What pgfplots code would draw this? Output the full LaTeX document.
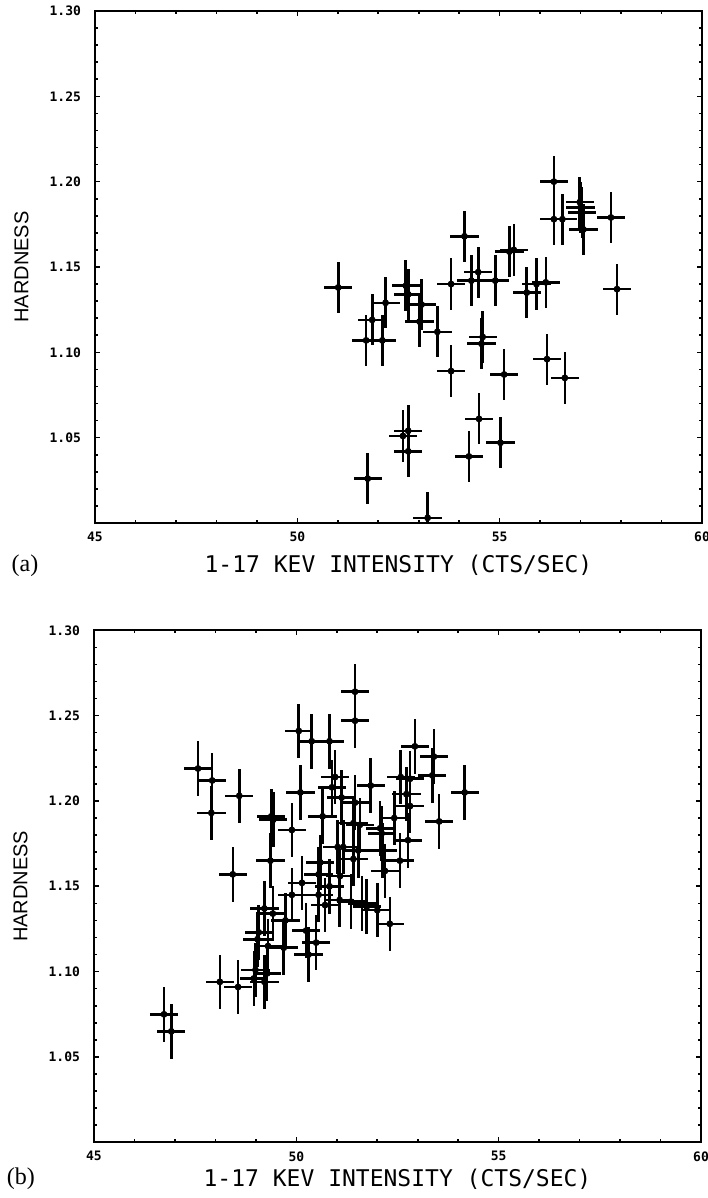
\documentclass[border=0pt]{standalone}
\usepackage{fontspec}
\setmainfont{Liberation Sans}
\newfontfamily\plotfont{DejaVu Sans Mono}
\newfontfamily\seriffont{Liberation Serif}
\usepackage{pgfplots}
\pgfplotsset{compat=1.18}
\usepackage{pgfplotstable}

% panel (a): intensity vs hardness
\pgfplotstableread{
x     y
51.01 1.138
51.85 1.119
51.70 1.107
52.10 1.107
52.18 1.129
52.68 1.139
52.74 1.134
53.07 1.128
53.02 1.118
53.46 1.112
53.80 1.140
54.13 1.168
54.30 1.142
54.47 1.147
54.89 1.142
55.24 1.159
55.35 1.160
55.67 1.135
55.91 1.140
56.14 1.141
56.34 1.200
56.34 1.178
56.55 1.178
56.98 1.188
57.00 1.185
57.03 1.182
57.07 1.172
57.75 1.179
57.90 1.137
54.58 1.109
54.55 1.105
53.80 1.089
55.11 1.087
56.17 1.096
56.61 1.085
54.49 1.061
55.02 1.047
54.24 1.039
52.61 1.051
52.74 1.054
52.74 1.042
51.74 1.026
53.22 1.003
}\dataA

% panel (b)
\pgfplotstableread{
x     y
47.57 1.219
47.92 1.212
47.90 1.193
48.59 1.203
48.43 1.157
46.73 1.075
46.91 1.065
48.11 1.094
48.56 1.091
51.45 1.264
51.45 1.247
50.06 1.241
50.38 1.235
50.82 1.235
50.10 1.205
49.38 1.191
49.43 1.189
49.89 1.183
49.36 1.165
50.65 1.191
50.96 1.214
50.88 1.208
51.12 1.202
51.84 1.209
51.45 1.199
51.41 1.187
51.57 1.186
52.07 1.184
52.11 1.181
52.42 1.190
52.93 1.232
53.40 1.226
53.36 1.215
52.58 1.214
52.81 1.213
54.16 1.205
52.72 1.204
52.81 1.197
53.53 1.188
52.76 1.177
51.02 1.173
51.53 1.171
52.13 1.171
51.16 1.173
52.56 1.165
52.19 1.159
50.59 1.164
50.55 1.157
51.08 1.156
51.41 1.166
50.82 1.150
50.55 1.145
50.14 1.152
51.07 1.142
51.35 1.141
50.71 1.139
51.62 1.140
51.74 1.138
52.00 1.136
52.31 1.128
50.24 1.124
50.49 1.117
50.30 1.110
49.89 1.145
49.21 1.137
49.42 1.134
49.73 1.130
49.07 1.123
49.04 1.119
49.69 1.114
49.30 1.115
48.99 1.101
49.28 1.099
48.95 1.096
49.21 1.094
}\dataB

\pgfplotsset{
  hardplot/.style={
    scale only axis, width=303.5pt, height=256pt,
    xmin=45, xmax=60, ymin=1.0, ymax=1.30,
    xtick={45,50,55,60}, xticklabels={45,50,55,60},
    minor x tick num=4,
    ytick={1.00,1.05,1.10,1.15,1.20,1.25,1.30},
    yticklabels={,1.05,1.10,1.15,1.20,1.25,1.30},
    minor y tick num=4,
    axis line style={line width=1pt},
    major tick length=2.5pt, minor tick length=1.5pt,
    every tick/.style={black, line width=0.8pt},
    tick label style={font=\plotfont\bfseries\fontsize{6.5}{7.5}\selectfont},
    yticklabel style={xshift=-3.5pt},
    xticklabel style={yshift=-1pt},
    xlabel={1-17 KEV INTENSITY (CTS/SEC)},
    ylabel={HARDNESS},
    xlabel style={font=\plotfont\fontsize{11.5}{13}\selectfont, anchor=center},
    ylabel style={font=\fontsize{10}{12}\selectfont, at={(axis description cs:-0.1212,0.5)}, rotate=0, anchor=center},
  },
  errcross/.style={only marks, mark=*, mark size=1.5pt, black,
    error bars/.cd, x dir=both, x fixed=0.35, y dir=both, y fixed=#1,
    error mark=none, error bar style={line width=1.3pt}},
}

\begin{document}
\begin{tikzpicture}

\begin{axis}[hardplot, at={(47.5pt,337.5pt)}, anchor=south west,
  xlabel style={at={(axis description cs:0.5,-0.083)}}]
\addplot[errcross=0.015] table[x=x, y=y] {\dataA};
\end{axis}

\begin{axis}[hardplot, at={(47pt,27.85pt)}, anchor=south west,
  xlabel style={at={(axis description cs:0.5,-0.072)}}]
\addplot[errcross=0.016] table[x=x, y=y] {\dataB};
\end{axis}

\node[font=\seriffont\fontsize{12}{14}\selectfont] at (12.5pt,316.1pt) {(a)};
\node[font=\seriffont\fontsize{12}{14}\selectfont] at (10.4pt,9.5pt) {(b)};

\pgfresetboundingbox
\path[use as bounding box] (0,0) rectangle (353.5pt,599pt);
\end{tikzpicture}
\end{document}
